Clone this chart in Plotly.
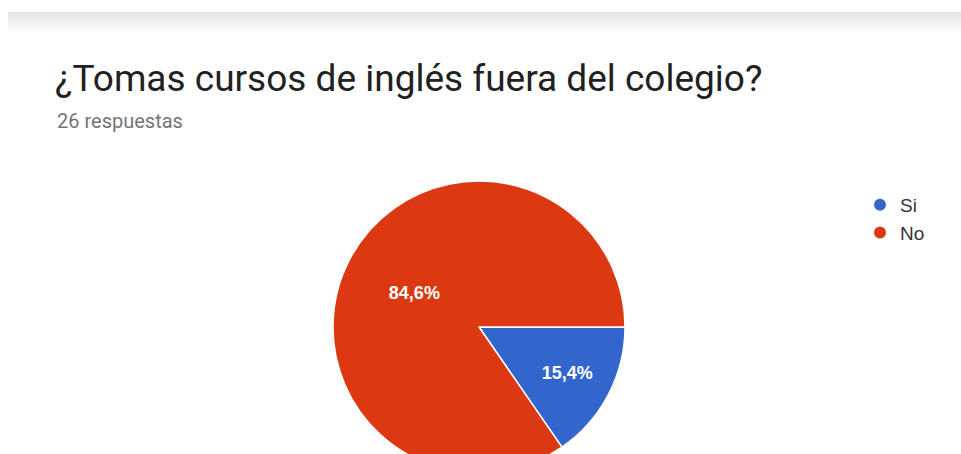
import plotly.graph_objects as go

categories = ["Si", "No"]
values = [4, 22]
colors = ["#3366CC", "#DC3912"]
title_text = "¿Tomas cursos de inglés fuera del colegio?"
subtitle_text = "26 respuestas"

W, H = 961, 480

def py(px):
    return 1 - px / H

fig = go.Figure()
fig.add_trace(go.Pie(
    labels=categories, values=values, sort=False, direction="clockwise",
    rotation=90, marker=dict(colors=colors, line=dict(color="white", width=1.5)),
    texttemplate="%{percent:.1%}", textposition="inside",
    insidetextorientation="horizontal",
    textfont=dict(family="Liberation Sans, Arial", size=18, color="white", weight="bold"),
    showlegend=False, hoverinfo="label+percent",
    domain=dict(x=[333 / W, 625 / W], y=[1 - 473 / H, 1 - 181 / H]),
))
for c, col in zip(categories, colors):
    fig.add_trace(go.Scatter(x=[None], y=[None], mode="markers", name=c,
                             marker=dict(color=col, size=18, symbol="circle")))

# top shadow band
for i in range(10):
    g = 229 + i * 2.6
    fig.add_shape(type="rect", xref="paper", yref="paper",
                  x0=8 / W, x1=1, y0=py(12 + 2 * i + 2), y1=py(12 + 2 * i),
                  fillcolor=f"rgb({int(g)},{int(g)},{int(g)})", line=dict(width=0), layer="below")

fig.add_annotation(text=title_text, xref="paper", yref="paper", x=53 / W, y=py(79),
                   xanchor="left", yanchor="middle", showarrow=False,
                   font=dict(family="Roboto", size=37, color="#212121"))
fig.add_annotation(text=subtitle_text, xref="paper", yref="paper", x=55 / W, y=py(121),
                   xanchor="left", yanchor="middle", showarrow=False,
                   font=dict(family="Roboto", size=20, color="#757575"))

fig.update_layout(
    width=W, height=H, margin=dict(l=0, r=0, t=0, b=0),
    paper_bgcolor="white", plot_bgcolor="white", separators=",.",
    xaxis=dict(visible=False), yaxis=dict(visible=False),
    legend=dict(x=860 / W, y=py(186), xanchor="left", yanchor="top",
                font=dict(family="Liberation Sans, Arial", size=19, color="#333333"),
                itemsizing="constant", tracegroupgap=0, bgcolor="rgba(0,0,0,0)"),
)
fig.write_html("out.html", post_script="document.documentElement.style.overflow='hidden';document.body.style.overflow='hidden';")
